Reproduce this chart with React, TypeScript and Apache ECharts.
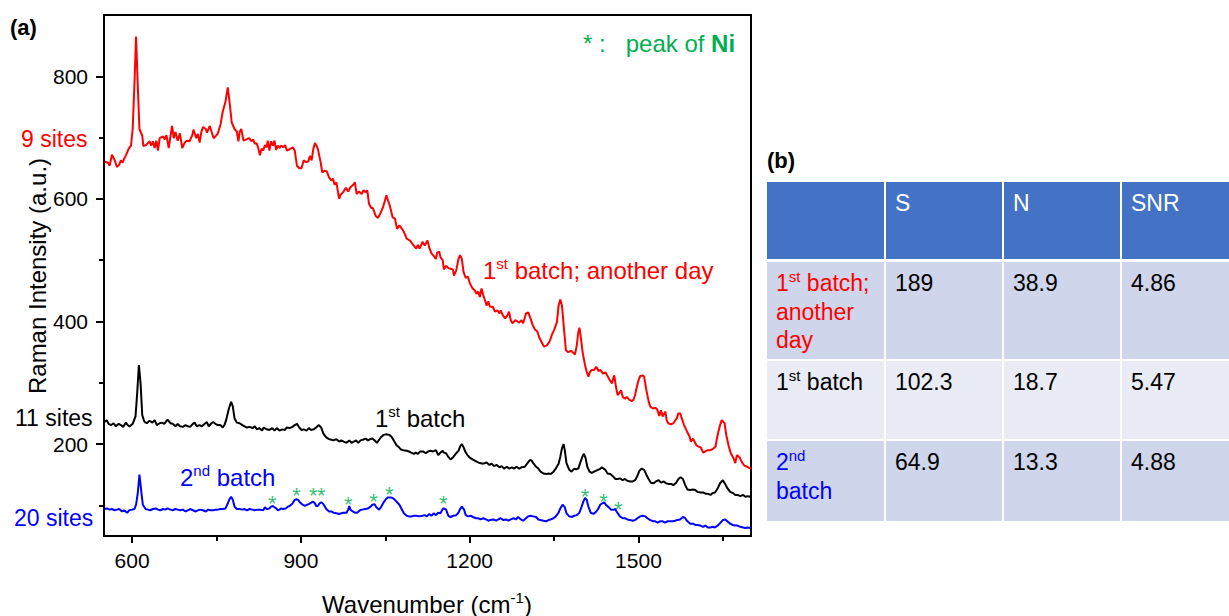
import React, { useEffect, useRef } from "react";
import * as echarts from "echarts";

// ---------- DATA ----------
const xMajorTicks = [600, 900, 1200, 1500];
const xMinorTicks = [750, 1050, 1350, 1650];
const yMajorTicks = [200, 400, 600, 800];
const yMinorTicks = [100, 300, 500, 700];

// 1st batch; another day (9 sites)
const redSpectrum: number[][] = [
  [551,661],[557,659],[560,654],[564,672],[569,663],[573,652],[577,656],[580,663],[583,659],[586,666],
  [589,671],[594,682],[598,687],[601,714],[604,785],[607,865],[610,785],[613,714],[618,703],[620,686],
  [625,688],[631,694],[634,687],[637,694],[640,683],[643,695],[646,679],[649,699],[655,702],[658,697],
  [661,704],[665,683],[668,701],[671,719],[674,699],[677,709],[681,695],[685,707],[689,683],[693,691],
  [697,695],[702,694],[707,704],[709,713],[714,699],[717,706],[720,692],[723,709],[726,717],[731,714],
  [733,708],[738,719],[741,710],[745,699],[748,702],[752,706],[757,721],[761,742],[766,759],[770,782],
  [773,759],[777,725],[782,714],[786,710],[789,694],[791,709],[794,714],[798,695],[803,697],[808,699],
  [812,694],[815,697],[818,690],[821,691],[824,684],[827,671],[830,682],[833,679],[836,688],[839,684],
  [841,695],[844,679],[847,694],[850,687],[853,695],[856,680],[859,687],[862,683],[865,687],[869,684],
  [872,688],[875,679],[880,681],[886,684],[889,679],[893,654],[897,650],[901,650],[905,663],[909,660],
  [913,661],[916,670],[919,663],[922,681],[925,691],[927,688],[930,682],[935,660],[938,643],[942,646],
  [946,645],[950,635],[954,630],[957,633],[960,623],[963,627],[968,600],[970,606],[975,611],[980,618],
  [984,612],[988,619],[993,623],[996,627],[999,608],[1003,612],[1008,608],[1011,614],[1015,611],[1018,614],
  [1021,592],[1025,585],[1028,585],[1033,572],[1037,569],[1040,574],[1045,584],[1049,596],[1052,606],[1055,597],
  [1058,589],[1063,570],[1067,568],[1071,551],[1075,557],[1079,552],[1083,546],[1088,535],[1094,532],[1098,527],
  [1103,521],[1105,519],[1108,525],[1111,519],[1116,530],[1120,524],[1125,532],[1128,521],[1132,511],[1136,507],
  [1140,502],[1142,512],[1146,514],[1148,505],[1152,500],[1154,485],[1158,491],[1162,487],[1166,486],[1170,485],
  [1172,475],[1176,483],[1180,502],[1183,508],[1186,502],[1189,481],[1193,471],[1197,473],[1200,463],[1205,454],
  [1209,451],[1212,445],[1215,449],[1218,440],[1221,454],[1224,443],[1227,435],[1230,426],[1233,433],[1236,424],
  [1241,424],[1245,416],[1249,418],[1253,413],[1255,418],[1259,410],[1263,405],[1267,410],[1270,416],[1273,402],
  [1276,397],[1281,402],[1285,400],[1288,398],[1292,402],[1295,397],[1300,413],[1304,415],[1308,405],[1312,394],
  [1316,387],[1320,384],[1324,373],[1328,366],[1332,359],[1337,361],[1342,367],[1346,378],[1350,386],[1355,399],
  [1358,426],[1361,436],[1364,426],[1367,394],[1371,353],[1375,350],[1380,352],[1383,350],[1387,346],[1390,359],
  [1393,382],[1395,390],[1397,378],[1401,348],[1405,329],[1408,318],[1411,310],[1414,318],[1417,321],[1421,321],
  [1425,326],[1429,319],[1432,321],[1437,315],[1441,317],[1445,311],[1450,303],[1453,299],[1456,310],[1457,312],
  [1460,293],[1463,280],[1466,283],[1469,288],[1472,277],[1476,274],[1479,277],[1484,272],[1488,270],[1491,272],
  [1494,280],[1497,293],[1500,304],[1503,311],[1508,312],[1510,310],[1514,288],[1518,270],[1521,261],[1526,258],
  [1530,259],[1533,257],[1537,246],[1540,255],[1543,245],[1548,253],[1550,239],[1553,234],[1558,232],[1562,234],
  [1565,238],[1568,242],[1571,250],[1574,250],[1577,242],[1581,231],[1586,221],[1591,212],[1593,204],[1597,209],
  [1599,205],[1603,198],[1607,196],[1611,194],[1615,186],[1619,188],[1623,190],[1628,190],[1632,192],[1637,196],
  [1639,207],[1642,220],[1645,231],[1648,239],[1653,234],[1656,215],[1660,198],[1664,185],[1669,177],[1672,169],
  [1675,182],[1680,178],[1684,170],[1688,165],[1693,163],[1699,160],[1700,162]
];

// 1st batch (11 sites)
const blackSpectrum: number[][] = [
  [551,236],[555,239],[558,233],[563,231],[567,234],[571,229],[576,233],[580,231],[584,228],[589,235],
  [592,231],[596,229],[601,233],[606,245],[609,283],[612,329],[615,299],[618,247],[622,236],[626,234],
  [631,238],[636,235],[640,239],[644,231],[649,234],[653,235],[657,233],[663,240],[668,234],[672,233],
  [677,229],[681,233],[685,229],[690,228],[695,231],[699,229],[703,228],[708,233],[711,235],[715,229],
  [720,231],[724,229],[729,233],[733,236],[736,229],[741,234],[744,236],[748,233],[752,231],[757,231],
  [761,227],[764,231],[767,239],[772,258],[776,269],[779,261],[782,242],[786,235],[791,234],[796,231],
  [800,229],[804,227],[809,228],[814,226],[818,229],[822,224],[826,226],[831,222],[834,227],[839,224],
  [844,223],[849,226],[853,222],[857,226],[862,222],[867,224],[871,223],[875,227],[880,226],[885,228],
  [889,231],[893,233],[897,227],[901,223],[905,224],[910,222],[914,226],[918,223],[923,224],[927,227],
  [932,231],[936,227],[940,217],[945,211],[950,208],[954,207],[958,206],[963,208],[968,204],[972,206],
  [976,204],[981,202],[986,206],[990,202],[994,204],[998,206],[1002,202],[1006,206],[1010,207],[1015,209],
  [1019,206],[1023,208],[1027,209],[1031,206],[1035,202],[1039,207],[1043,212],[1047,215],[1052,216],[1057,215],
  [1061,212],[1065,206],[1070,198],[1074,195],[1078,191],[1082,190],[1088,189],[1092,188],[1096,186],[1101,184],
  [1104,186],[1108,184],[1112,188],[1117,188],[1122,185],[1126,188],[1130,189],[1135,188],[1140,190],[1144,182],
  [1148,186],[1152,189],[1154,186],[1158,185],[1162,179],[1166,175],[1171,179],[1176,185],[1180,189],[1183,196],
  [1186,200],[1189,195],[1192,188],[1196,182],[1200,178],[1205,175],[1209,173],[1213,171],[1218,169],[1224,168],
  [1230,170],[1235,166],[1239,168],[1243,164],[1248,166],[1253,162],[1257,164],[1261,160],[1266,163],[1270,160],
  [1275,162],[1279,160],[1283,163],[1288,160],[1292,162],[1298,163],[1302,168],[1307,174],[1310,173],[1313,169],
  [1318,163],[1322,160],[1326,155],[1331,152],[1336,151],[1340,152],[1344,151],[1349,155],[1353,160],[1358,168],
  [1361,179],[1364,193],[1367,200],[1369,190],[1372,169],[1377,158],[1381,155],[1386,160],[1389,159],[1393,160],
  [1397,171],[1401,181],[1403,184],[1406,177],[1409,163],[1413,155],[1417,153],[1421,155],[1426,157],[1431,159],
  [1435,162],[1438,160],[1441,158],[1445,152],[1450,151],[1454,148],[1459,143],[1463,143],[1467,144],[1472,141],
  [1476,143],[1480,140],[1485,139],[1490,139],[1494,141],[1498,148],[1502,157],[1506,160],[1510,158],[1514,150],
  [1518,143],[1522,137],[1527,136],[1531,139],[1536,141],[1540,137],[1545,139],[1549,136],[1553,135],[1558,135],
  [1562,133],[1567,137],[1571,143],[1575,146],[1579,143],[1583,133],[1587,126],[1592,125],[1597,126],[1601,125],
  [1605,122],[1610,121],[1615,121],[1619,119],[1623,119],[1628,117],[1632,120],[1636,121],[1641,128],[1645,136],
  [1650,141],[1654,135],[1658,128],[1663,122],[1668,120],[1672,117],[1676,117],[1681,115],[1686,117],[1690,114],
  [1694,115],[1699,114],[1700,113]
];

// 2nd batch (20 sites)
const blueSpectrum: number[][] = [
  [551,94],[555,95],[560,93],[564,94],[569,92],[573,93],[577,94],[582,90],[586,92],[591,88],
  [595,92],[600,93],[604,94],[607,101],[610,120],[613,150],[616,125],[619,101],[624,94],[628,93],
  [632,92],[637,94],[642,95],[646,93],[650,92],[655,94],[659,93],[663,95],[668,93],[672,92],
  [677,94],[681,93],[685,92],[690,93],[695,90],[699,92],[703,94],[708,92],[713,90],[717,92],
  [721,93],[726,92],[731,90],[735,93],[739,92],[744,92],[748,93],[752,93],[757,94],[761,94],
  [766,95],[770,103],[773,110],[776,114],[779,109],[782,98],[786,94],[791,94],[796,93],[800,94],
  [804,92],[809,94],[814,93],[818,92],[822,93],[827,93],[833,92],[836,97],[839,94],[841,94],
  [844,95],[847,98],[850,99],[853,97],[856,95],[859,92],[862,93],[865,95],[868,94],[873,95],
  [877,98],[880,99],[885,103],[889,109],[892,110],[895,109],[898,105],[903,101],[907,99],[911,101],
  [914,102],[919,105],[922,106],[925,103],[927,99],[930,99],[933,103],[936,105],[939,103],[942,99],
  [945,94],[950,90],[954,90],[958,88],[963,87],[968,86],[972,87],[976,88],[981,88],[984,93],
  [986,99],[988,93],[992,90],[996,88],[1000,88],[1005,92],[1009,93],[1014,94],[1019,95],[1024,98],
  [1027,101],[1031,102],[1034,97],[1039,93],[1043,98],[1047,105],[1051,110],[1055,113],[1059,113],[1063,112],
  [1067,109],[1071,105],[1075,101],[1079,94],[1083,87],[1088,83],[1092,82],[1097,82],[1101,83],[1105,83],
  [1110,82],[1116,83],[1120,84],[1124,82],[1128,86],[1132,83],[1136,87],[1140,84],[1144,88],[1148,87],
  [1152,94],[1154,95],[1158,93],[1162,83],[1166,81],[1171,83],[1176,84],[1180,88],[1183,94],[1186,98],
  [1190,93],[1193,84],[1197,82],[1202,83],[1206,81],[1211,79],[1215,79],[1219,77],[1224,79],[1229,77],
  [1233,75],[1237,76],[1242,77],[1247,75],[1251,77],[1255,79],[1260,76],[1264,77],[1269,75],[1273,77],
  [1278,79],[1282,77],[1286,81],[1291,77],[1295,75],[1300,79],[1304,82],[1308,83],[1313,82],[1318,81],
  [1322,77],[1326,76],[1331,75],[1336,74],[1340,76],[1344,77],[1349,79],[1353,82],[1358,88],[1361,95],
  [1365,101],[1369,97],[1372,87],[1377,82],[1381,81],[1386,83],[1390,84],[1395,88],[1399,98],[1402,106],
  [1405,112],[1408,109],[1411,98],[1415,88],[1420,86],[1425,90],[1429,95],[1432,101],[1435,103],[1439,105],
  [1442,101],[1447,97],[1451,93],[1456,93],[1459,94],[1461,90],[1464,86],[1467,82],[1472,79],[1476,79],
  [1480,77],[1485,76],[1490,75],[1494,76],[1498,79],[1503,82],[1508,83],[1512,82],[1516,79],[1521,76],
  [1526,74],[1530,74],[1534,72],[1539,74],[1543,74],[1547,72],[1552,74],[1556,74],[1561,74],[1565,75],
  [1569,76],[1574,77],[1579,81],[1583,79],[1587,74],[1592,70],[1597,70],[1601,68],[1605,68],[1610,67],
  [1615,65],[1619,67],[1623,64],[1628,64],[1632,65],[1636,64],[1641,67],[1645,71],[1650,76],[1654,77],
  [1658,74],[1663,70],[1668,68],[1672,67],[1676,67],[1681,65],[1686,64],[1690,63],[1694,64],[1699,63],
  [1700,63]
];

// Ni peak markers (*) on the 2nd batch spectrum
const niPeakMarks: number[][] = [
  [849,111],[892,125],[922,124],[936,124],[984,109],[1029,115],[1057,126],
  [1153,111],[1405,122],[1438,115],[1464,101]
];

// Table (b)
const tableHeader = ["", "S", "N", "SNR"];
const tableRowLabels = [
  "{n|1}{sup|st}{n| batch;}\n{n|another}\n{n|day}",
  "{n|1}{sup|st}{n| batch}",
  "{n|2}{sup|nd}\n{n|batch}"
];
const tableRowColors = ["#FF0000", "#000000", "#0000FF"];
const sValues = ["189", "102.3", "64.9"];
const nValues = ["38.9", "18.7", "13.3"];
const snrValues = ["4.86", "5.47", "4.88"];

// ---------- LAYOUT ----------
const FONT = "'Liberation Sans', Arial, Helvetica, sans-serif";
const GREEN = "#00B050";
const colX = [767, 886, 1004, 1122];
const colW = [117, 116, 116, 107];
const rowY = [182, 262, 361, 441];
const rowH = [77, 97, 78, 80];
const rowFill = ["#4472C4", "#CFD5EA", "#E9EBF5", "#CFD5EA"];

const richSup = (size: number, supSize: number, lh: number) => ({
  n: { fontSize: size, lineHeight: lh, fontFamily: FONT },
  sup: { fontSize: supSize, lineHeight: Math.round(lh * 0.6), verticalAlign: "top", fontFamily: FONT },
  b: { fontSize: size, lineHeight: lh, fontFamily: FONT, fontWeight: "bold" },
});

function buildTable(): any[] {
  const els: any[] = [];
  for (let r = 0; r < 4; r++) {
    for (let c = 0; c < 4; c++) {
      els.push({
        type: "rect",
        silent: true,
        shape: { x: colX[c], y: rowY[r], width: colW[c], height: rowH[r] },
        style: { fill: rowFill[r] },
      });
    }
  }
  for (let c = 1; c < 4; c++) {
    els.push({
      type: "text",
      x: colX[c] + 9,
      y: rowY[0] + 7,
      style: {
        text: tableHeader[c],
        fill: "#FFFFFF",
        fontSize: 23,
        fontFamily: FONT,
        lineHeight: 28,
        align: "left",
        verticalAlign: "top",
      },
    });
  }
  for (let r = 0; r < 3; r++) {
    els.push({
      type: "text",
      x: colX[0] + 9,
      y: rowY[r + 1] + 7,
      style: {
        text: tableRowLabels[r],
        fill: tableRowColors[r],
        align: "left",
        verticalAlign: "top",
        rich: richSup(23, 15, 28.5),
      },
    });
    const vals = [sValues[r], nValues[r], snrValues[r]];
    for (let c = 0; c < 3; c++) {
      els.push({
        type: "text",
        x: colX[c + 1] + 9,
        y: rowY[r + 1] + 7,
        style: {
          text: vals[c],
          fill: "#000000",
          fontSize: 23,
          fontFamily: FONT,
          lineHeight: 28.5,
          align: "left",
          verticalAlign: "top",
        },
      });
    }
  }
  return els;
}

function textEl(text: string, x: number, y: number, fill: string, size: number, extra: any = {}) {
  return {
    type: "text",
    x,
    y,
    silent: true,
    style: {
      text,
      fill,
      fontSize: size,
      fontFamily: FONT,
      align: "left",
      verticalAlign: "middle",
      ...extra,
    },
  };
}

const plainNumber = (v: number) => String(v);

export default function App() {
  const ref = useRef<HTMLDivElement>(null);
  useEffect(() => {
    if (!ref.current) return;
    const chart = echarts.init(ref.current, null, { renderer: "svg" });
    const axisCommon = {
      type: "value",
      splitLine: { show: false },
    };
    const option: any = {
      animation: false,
      backgroundColor: "#FFFFFF",
      grid: {
        left: 104,
        right: 478,
        top: 15,
        bottom: 80,
        show: true,
        borderColor: "#000",
        borderWidth: 2,
        backgroundColor: "transparent",
      },
      xAxis: [
        {
          ...axisCommon,
          min: 550,
          max: 1700,
          position: "bottom",
          axisLine: { show: true, onZero: false, lineStyle: { color: "#000", width: 2 } },
          axisTick: { show: true, customValues: xMajorTicks, length: 7, lineStyle: { color: "#000", width: 2 } },
          axisLabel: {
            customValues: xMajorTicks,
            formatter: plainNumber,
            fontSize: 21,
            color: "#000",
            margin: 14,
            fontFamily: FONT,
          },
        },
        {
          ...axisCommon,
          min: 550,
          max: 1700,
          position: "bottom",
          axisLine: { show: false, onZero: false },
          axisTick: { show: true, customValues: xMinorTicks, length: 5, lineStyle: { color: "#000", width: 2 } },
          axisLabel: { show: false },
        },
      ],
      yAxis: [
        {
          ...axisCommon,
          min: 50,
          max: 900,
          position: "left",
          axisLine: { show: true, onZero: false, lineStyle: { color: "#000", width: 2 } },
          axisTick: { show: true, customValues: yMajorTicks, length: 8, lineStyle: { color: "#000", width: 2 } },
          axisLabel: {
            customValues: yMajorTicks,
            formatter: plainNumber,
            fontSize: 21,
            color: "#000",
            margin: 16,
            fontFamily: FONT,
          },
        },
        {
          ...axisCommon,
          min: 50,
          max: 900,
          position: "left",
          axisLine: { show: false, onZero: false },
          axisTick: { show: true, customValues: yMinorTicks, length: 5, lineStyle: { color: "#000", width: 2 } },
          axisLabel: { show: false },
        },
      ],
      series: [
        {
          name: "1st batch; another day",
          type: "line",
          data: redSpectrum,
          showSymbol: false,
          lineStyle: { color: "#FF0000", width: 2 },
          itemStyle: { color: "#FF0000" },
          silent: true,
        },
        {
          name: "1st batch",
          type: "line",
          data: blackSpectrum,
          showSymbol: false,
          lineStyle: { color: "#000000", width: 2 },
          itemStyle: { color: "#000000" },
          silent: true,
        },
        {
          name: "2nd batch",
          type: "line",
          data: blueSpectrum,
          showSymbol: false,
          lineStyle: { color: "#0000FF", width: 2 },
          itemStyle: { color: "#0000FF" },
          silent: true,
        },
        {
          name: "Ni peaks",
          type: "scatter",
          data: niPeakMarks,
          symbolSize: 1,
          itemStyle: { color: "rgba(0,0,0,0)" },
          silent: true,
          label: {
            show: true,
            formatter: "*",
            position: "inside",
            color: GREEN,
            fontSize: 22,
            fontFamily: FONT,
            offset: [0, 5],
          },
        },
      ],
      graphic: [
        textEl("(a)", 10, 27, "#000", 22, { fontWeight: "bold" }),
        textEl("(b)", 767, 160, "#000", 22, { fontWeight: "bold" }),
        textEl("9 sites", 21, 139, "#FF0000", 23),
        textEl("11 sites", 15, 418, "#000000", 23),
        textEl("20 sites", 14, 518, "#0000FF", 23),
        {
          type: "text",
          x: 483,
          y: 270,
          silent: true,
          style: {
            text: "{n|1}{sup|st}{n| batch; another day}",
            fill: "#FF0000",
            align: "left",
            verticalAlign: "middle",
            rich: richSup(24, 15, 28),
          },
        },
        {
          type: "text",
          x: 375,
          y: 418,
          silent: true,
          style: {
            text: "{n|1}{sup|st}{n| batch}",
            fill: "#000000",
            align: "left",
            verticalAlign: "middle",
            rich: richSup(24, 15, 28),
          },
        },
        {
          type: "text",
          x: 180,
          y: 477,
          silent: true,
          style: {
            text: "{n|2}{sup|nd}{n| batch}",
            fill: "#0000FF",
            align: "left",
            verticalAlign: "middle",
            rich: richSup(24, 15, 28),
          },
        },
        {
          type: "text",
          x: 583,
          y: 43,
          silent: true,
          style: {
            text: "{n|* :   peak of }{b|Ni}",
            fill: GREEN,
            align: "left",
            verticalAlign: "middle",
            rich: richSup(24, 14, 28),
          },
        },
        {
          type: "text",
          x: 427,
          y: 604,
          silent: true,
          style: {
            text: "{n|Wavenumber (cm}{sup|-1}{n|)}",
            fill: "#000",
            align: "center",
            verticalAlign: "middle",
            rich: richSup(24, 15, 28),
          },
        },
        {
          type: "text",
          x: 37,
          y: 276,
          rotation: Math.PI / 2,
          silent: true,
          style: {
            text: "Raman Intensity (a.u.)",
            fill: "#000",
            fontSize: 24,
            fontFamily: FONT,
            align: "center",
            verticalAlign: "middle",
          },
        },
        ...buildTable(),
      ],
    };
    chart.setOption(option);
    return () => {
      chart.dispose();
    };
  }, []);
  return (
    <div
      ref={ref}
      style={{ position: "absolute", left: 0, top: 0, width: 1229, height: 616, background: "#fff" }}
    />
  );
}
